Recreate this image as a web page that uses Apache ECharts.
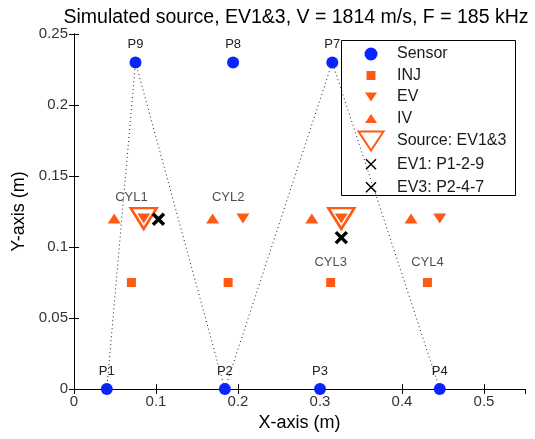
<!DOCTYPE html>
<html>
<head>
<meta charset="utf-8">
<script src="https://cdn.jsdelivr.net/npm/echarts@6/dist/echarts.min.js"></script>
<style>
html, body { margin: 0; padding: 0; background: #fff; }
#chart { width: 535px; height: 439px; }
</style>
</head>
<body>
<div id="chart"></div>
<script>
// sensor positions (m)
const sensorNames = ['P1', 'P2', 'P3', 'P4', 'P7', 'P8', 'P9'];
const sensorX = [0.040, 0.184, 0.300, 0.446, 0.315, 0.194, 0.075];
const sensorY = [0, 0, 0, 0, 0.23, 0.23, 0.23];

// cylinder head features
const cylNames = ['CYL1', 'CYL2', 'CYL3', 'CYL4'];
const injX = [0.070, 0.188, 0.313, 0.431];
const injY = [0.075, 0.075, 0.075, 0.075];
const ivX = [0.049, 0.169, 0.290, 0.411];
const ivY = [0.12, 0.12, 0.12, 0.12];
const evX = [0.085, 0.206, 0.326, 0.446];
const evY = [0.12, 0.12, 0.12, 0.12];
const cylLabelY = [0.135, 0.135, 0.089, 0.089];

// simulated source = EV of cylinder 1 and 3
const sourceCyl = [0, 2];

// located positions
const ev1Loc = [0.103, 0.1195];
const ev3Loc = [0.326, 0.1066];

// dotted sensor path
const pathSensors = ['P1', 'P9', 'P2', 'P7', 'P4'];

// axes
const xMin = 0, xMax = 0.55, xStep = 0.1;
const yMin = 0, yMax = 0.25, yStep = 0.05;

const BLUE = '#0a24ff';
const ORANGE = '#ff5a14';
const FONT = '"Liberation Sans", Arial, sans-serif';
const NONE_FILL = 'rgba(0,0,0,0)';

const TRI_DOWN = 'path://M0,0L2,0L1,1.6Z';
const TRI_UP = 'path://M1,0L2,1.6L0,1.6Z';
const SQUARE = 'path://M0,0L1,0L1,1L0,1Z';
const CROSS = 'path://M0,0L1,1M1,0L0,1';

// legend icons live in a fixed 42x21 frame (the two moveTo points keep the frame)
function icon(body) {
  return 'path://M0,0M42,21' + body;
}
const LEG_CIRCLE = icon('M14.5,10.5A6.5,6.5,0,1,1,27.5,10.5A6.5,6.5,0,1,1,14.5,10.5Z');
const LEG_SQUARE = icon('M16.5,6L25.5,6L25.5,15L16.5,15Z');
const LEG_DOWN = icon('M15,6L27,6L21,15Z');
const LEG_UP = icon('M21,6L27,15L15,15Z');
const LEG_SOURCE = icon('M8.5,1L33.5,1L21,20Z');
const LEG_CROSS = icon('M16,5.5L26,15.5M26,5.5L16,15.5');

const sensorData = sensorNames.map((n, i) => ({ name: n, value: [sensorX[i], sensorY[i]] }));
const pathData = pathSensors.map((n) => {
  const i = sensorNames.indexOf(n);
  return [sensorX[i], sensorY[i]];
});

function pts(xs, ys) {
  return xs.map((x, i) => [x, ys[i]]);
}

const chart = echarts.init(document.getElementById('chart'), null, { renderer: 'canvas' });

const axisCommon = {
  axisLine: { lineStyle: { color: '#000', width: 1 } },
  axisTick: { inside: true, length: 5, lineStyle: { color: '#000' } },
  splitLine: { show: false },
};

chart.setOption({
  animation: false,
  backgroundColor: '#fff',
  title: {
    text: 'Simulated source, EV1&3, V = 1814 m/s, F = 185 kHz',
    left: 291,
    textAlign: 'center',
    top: 3,
    textStyle: { fontSize: 19.5, fontWeight: 'normal', color: '#000', fontFamily: FONT },
  },
  grid: { left: 74, right: 10, top: 34, bottom: 50 },
  xAxis: [
    Object.assign({}, axisCommon, {
      type: 'value', min: xMin, max: xMax, interval: xStep, position: 'bottom',
      name: 'X-axis (m)', nameLocation: 'middle', nameGap: 25,
      nameTextStyle: { fontSize: 18, color: '#000', fontFamily: FONT },
      axisLabel: {
        color: '#333', fontSize: 15, fontFamily: FONT, margin: 5, showMaxLabel: false,
        formatter: (v) => String(+v.toFixed(2)),
      },
    }),
    Object.assign({}, axisCommon, {
      type: 'value', min: xMin, max: xMax, interval: xStep, position: 'top',
      axisLabel: { show: false },
    }),
  ],
  yAxis: [
    Object.assign({}, axisCommon, {
      type: 'value', min: yMin, max: yMax, interval: yStep, position: 'left',
      name: 'Y-axis (m)', nameLocation: 'middle', nameGap: 45,
      nameTextStyle: { fontSize: 18, color: '#000', fontFamily: FONT },
      axisLabel: {
        color: '#333', fontSize: 15, fontFamily: FONT, margin: 6,
        formatter: (v) => String(+v.toFixed(2)),
      },
    }),
    Object.assign({}, axisCommon, {
      type: 'value', min: yMin, max: yMax, interval: yStep, position: 'right',
      axisLabel: { show: false },
    }),
  ],
  legend: {
    orient: 'vertical',
    left: 349,
    top: 43.5,
    padding: 0,
    itemWidth: 42,
    itemHeight: 21,
    itemGap: 0.5,
    symbolKeepAspect: true,
    selectedMode: false,
    z: 5,
    textStyle: { fontSize: 16, color: '#1a1a1a', fontFamily: FONT },
    data: [
      { name: 'Sensor', icon: LEG_CIRCLE },
      { name: 'INJ', icon: LEG_SQUARE },
      { name: 'EV', icon: LEG_DOWN },
      { name: 'IV', icon: LEG_UP },
      { name: 'Source: EV1&3', icon: LEG_SOURCE,
        itemStyle: { color: NONE_FILL, borderColor: ORANGE, borderWidth: 2, opacity: 1 } },
      { name: 'EV1: P1-2-9', icon: LEG_CROSS,
        itemStyle: { color: NONE_FILL, borderColor: '#000', borderWidth: 1.5, opacity: 1 } },
      { name: 'EV3: P2-4-7', icon: LEG_CROSS,
        itemStyle: { color: NONE_FILL, borderColor: '#000', borderWidth: 1.5, opacity: 1 } },
    ],
  },
  graphic: [{
    type: 'rect',
    z: 3,
    shape: { x: 341.5, y: 40.5, width: 174, height: 155 },
    style: { fill: '#fff', stroke: '#000', lineWidth: 1 },
  }],
  series: [
    {
      name: 'path',
      type: 'line',
      data: pathData,
      symbol: 'none',
      silent: true,
      lineStyle: { color: '#222', width: 1, type: [1, 3] },
    },
    {
      name: 'Sensor',
      type: 'scatter',
      data: sensorData,
      symbol: 'circle',
      symbolSize: 12,
      itemStyle: { color: BLUE, opacity: 1 },
      label: {
        show: true, position: 'top', distance: 5, formatter: '{b}',
        fontSize: 13, color: '#222', fontFamily: FONT,
      },
    },
    {
      name: 'INJ',
      type: 'scatter',
      data: pts(injX, injY),
      symbol: SQUARE,
      symbolSize: 9,
      itemStyle: { color: ORANGE, opacity: 1 },
    },
    {
      name: 'EV',
      type: 'scatter',
      data: pts(evX, evY),
      symbol: TRI_DOWN,
      symbolSize: [13, 10],
      itemStyle: { color: ORANGE, opacity: 1 },
    },
    {
      name: 'IV',
      type: 'scatter',
      data: pts(ivX, ivY),
      symbol: TRI_UP,
      symbolSize: [13, 10],
      itemStyle: { color: ORANGE, opacity: 1 },
    },
    {
      name: 'Source: EV1&3',
      type: 'scatter',
      data: sourceCyl.map((c) => [evX[c], evY[c]]),
      symbol: TRI_DOWN,
      symbolSize: [26, 21],
      itemStyle: { color: NONE_FILL, borderColor: ORANGE, borderWidth: 2.5, opacity: 1 },
    },
    {
      name: 'EV1: P1-2-9',
      type: 'scatter',
      data: [ev1Loc],
      symbol: CROSS,
      symbolSize: 11,
      itemStyle: { color: NONE_FILL, borderColor: '#000', borderWidth: 3.5, opacity: 1 },
    },
    {
      name: 'EV3: P2-4-7',
      type: 'scatter',
      data: [ev3Loc],
      symbol: CROSS,
      symbolSize: 11,
      itemStyle: { color: NONE_FILL, borderColor: '#000', borderWidth: 3.5, opacity: 1 },
    },
    {
      // cylinder captions
      name: 'cyl',
      type: 'scatter',
      data: cylNames.map((n, i) => ({ name: n, value: [injX[i], cylLabelY[i]] })),
      symbolSize: 0,
      silent: true,
      label: {
        show: true, position: 'inside', formatter: '{b}',
        fontSize: 13, color: '#222', fontFamily: FONT,
      },
    },
  ],
});
</script>
</body>
</html>
